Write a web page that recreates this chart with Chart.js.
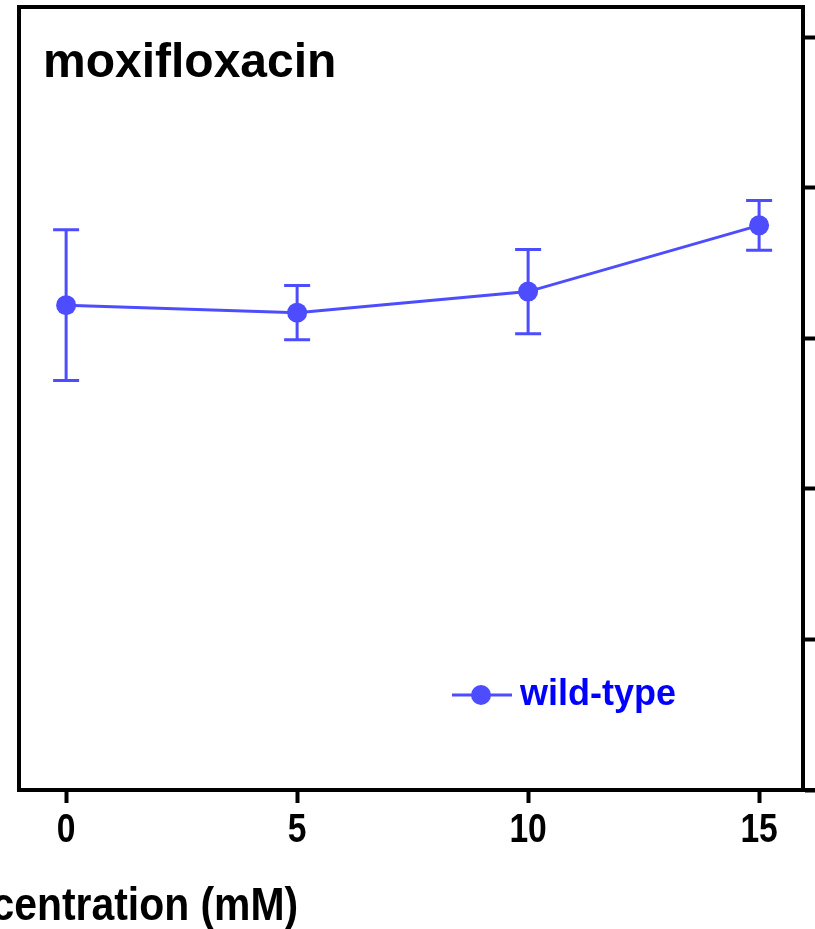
<!DOCTYPE html>
<html>
<head>
<meta charset="utf-8">
<script src="https://cdn.jsdelivr.net/npm/chart.js@4.4.1/dist/chart.umd.min.js"></script>
<style>
    html, body { margin: 0; padding: 0; background: #fff; }
    #wrap { width: 815px; height: 929px; }
</style>
</head>
<body>
<div id="wrap"><canvas id="myChart" width="815" height="929"></canvas></div>
<script>
// values
var concentrations = [0, 5, 10, 15];
var wildType = [3.22, 3.17, 3.31, 3.75];
var wildTypeErr = [0.50, 0.18, 0.28, 0.165];
var xTicks = [0, 5, 10, 15];
var yTicks = [0, 1, 2, 3, 4, 5];

var seriesColor = '#4d4dff';
var boldFont = '"Liberation Sans", Arial, sans-serif';

// no narrow font installed, squeeze the normal one
function narrowText(ctx, text, x, y, align, squeeze) {
    ctx.save();
    ctx.translate(x, y);
    ctx.scale(squeeze, 1);
    ctx.textAlign = align;
    ctx.fillText(text, 0, 0);
    ctx.restore();
}

var errorBars = {
    id: 'errorBars',
    beforeDatasetsDraw: function (chart) {
        var ctx = chart.ctx;
        var xs = chart.scales.x;
        var ys = chart.scales.y;
        ctx.save();
        ctx.strokeStyle = seriesColor;
        ctx.lineWidth = 3;
        concentrations.forEach(function (c, i) {
            var px = xs.getPixelForValue(c);
            var top = ys.getPixelForValue(wildType[i] + wildTypeErr[i]);
            var bot = ys.getPixelForValue(wildType[i] - wildTypeErr[i]);
            ctx.beginPath();
            ctx.moveTo(px, top);
            ctx.lineTo(px, bot);
            ctx.moveTo(px - 13, top);
            ctx.lineTo(px + 13, top);
            ctx.moveTo(px - 13, bot);
            ctx.lineTo(px + 13, bot);
            ctx.stroke();
        });
        ctx.restore();
    }
};

var labels = {
    id: 'labels',
    afterDraw: function (chart) {
        var ctx = chart.ctx;
        var area = chart.chartArea;
        var xs = chart.scales.x;
        ctx.save();

        // bottom axis line runs on past the frame
        ctx.strokeStyle = '#000';
        ctx.lineWidth = 4;
        ctx.beginPath();
        ctx.moveTo(area.right, area.bottom);
        ctx.lineTo(chart.width, area.bottom);
        ctx.stroke();

        // panel title
        ctx.fillStyle = '#000';
        ctx.font = 'bold 48px ' + boldFont;
        ctx.textAlign = 'left';
        ctx.textBaseline = 'alphabetic';
        ctx.fillText('moxifloxacin', area.left + 24, 77);

        // x tick labels
        ctx.font = 'bold 41px ' + boldFont;
        ctx.textBaseline = 'middle';
        xs.ticks.forEach(function (t) {
            narrowText(ctx, String(t.value), xs.getPixelForValue(t.value), area.bottom + 41, 'center', 0.82);
        });

        // x axis title (runs off the left edge)
        ctx.font = 'bold 47px ' + boldFont;
        ctx.textBaseline = 'alphabetic';
        narrowText(ctx, 'Concentration (mM)', xs.getPixelForValue(5) + 1, 920, 'right', 0.87);

        // legend
        var lx = area.left + 433;
        var ly = area.bottom - 95;
        ctx.strokeStyle = seriesColor;
        ctx.lineWidth = 3;
        ctx.beginPath();
        ctx.moveTo(lx, ly);
        ctx.lineTo(lx + 60, ly);
        ctx.stroke();
        ctx.fillStyle = seriesColor;
        ctx.beginPath();
        ctx.arc(lx + 29, ly, 10, 0, Math.PI * 2);
        ctx.fill();
        ctx.fillStyle = '#0000ff';
        ctx.font = 'bold 36px ' + boldFont;
        ctx.textAlign = 'left';
        ctx.textBaseline = 'middle';
        ctx.fillText('wild-type', lx + 68, ly);
        ctx.restore();
    }
};

var ctx = document.getElementById('myChart').getContext('2d');
var myChart = new Chart(ctx, {
    type: 'line',
    data: {
        datasets: [{
            label: 'wild-type',
            data: concentrations.map(function (c, i) {
                return { x: c, y: wildType[i] };
            }),
            borderColor: seriesColor,
            backgroundColor: seriesColor,
            borderWidth: 3,
            pointRadius: 10,
            pointHoverRadius: 10,
            pointBorderWidth: 0,
            tension: 0
        }]
    },
    options: {
        responsive: false,
        animation: false,
        layout: {
            autoPadding: false,
            padding: { left: 19, top: 7, right: 0, bottom: 126 }
        },
        plugins: {
            legend: { display: false },
            tooltip: { enabled: false }
        },
        scales: {
            x: {
                type: 'linear',
                position: 'bottom',
                min: -1.02,
                max: 15.95,
                afterBuildTicks: function (scale) {
                    scale.ticks = xTicks.map(function (v) { return { value: v }; });
                },
                grid: {
                    drawOnChartArea: false,
                    tickLength: 13,
                    tickWidth: 4,
                    tickColor: '#000'
                },
                border: { display: true, width: 4, color: '#000' },
                ticks: { display: false }
            },
            xTop: {
                type: 'linear',
                position: 'top',
                min: -1.02,
                max: 15.95,
                grid: { display: false, drawTicks: false },
                ticks: { display: false },
                border: { display: true, width: 4, color: '#000' }
            },
            y: {
                type: 'linear',
                position: 'right',
                min: 0,
                max: 5.2,
                afterBuildTicks: function (scale) {
                    scale.ticks = yTicks.map(function (v) { return { value: v }; });
                },
                grid: {
                    drawOnChartArea: false,
                    tickLength: 12,
                    tickWidth: 4,
                    tickColor: '#000'
                },
                border: { display: true, width: 4, color: '#000' },
                ticks: { display: false }
            },
            yLeft: {
                type: 'linear',
                position: 'left',
                min: 0,
                max: 5.2,
                grid: { display: false, drawTicks: false },
                ticks: { display: false },
                border: { display: true, width: 4, color: '#000' }
            }
        }
    },
    plugins: [errorBars, labels]
});
</script>
</body>
</html>
